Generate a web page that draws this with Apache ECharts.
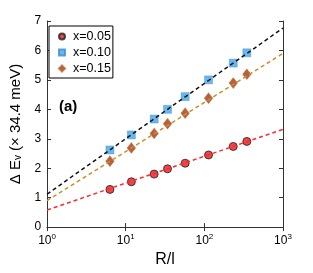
<!DOCTYPE html>
<html><head><meta charset="utf-8">
<script src="https://cdn.jsdelivr.net/npm/echarts@6/dist/echarts.min.js"></script>
<style>html,body{margin:0;padding:0;background:#fff}#c{width:313px;height:273px}</style>
</head><body><div id="c"></div>
<script>
var rl = [6.3, 11.8, 23, 34, 57, 113, 233, 347];
var x005 = [1.28, 1.54, 1.80, 1.98, 2.17, 2.45, 2.74, 2.91];
var x010 = [2.62, 3.13, 3.67, 4.00, 4.43, 5.00, 5.57, 5.92];
var x015 = [2.24, 2.69, 3.18, 3.51, 3.87, 4.38, 4.89, 5.19];
var fitX = [1, 1000];
var fit005 = [0.58, 3.32];
var fit010 = [1.12, 6.76];
var fit015 = [0.90, 5.90];
var seriesNames = ['x=0.05', 'x=0.10', 'x=0.15'];
var yTicks = [0, 1, 2, 3, 4, 5, 6, 7];

var FONT = 'Liberation Sans';
function pairs(xs, ys){ return xs.map(function(x,i){return [x, ys[i]];}); }

var chart = echarts.init(document.getElementById('c'));
var axisLine = {show: true, lineStyle: {color: '#333', width: 1}};
chart.setOption({
  animation: false,
  textStyle: {fontFamily: FONT},
  grid: {left: 42, top: 21, right: 30, bottom: 37, containLabel: false},
  legend: {
    data: [
      {name: seriesNames[0], icon: 'circle'},
      {name: seriesNames[1], icon: 'rect'},
      {name: seriesNames[2], icon: 'diamond'}
    ],
    orient: 'vertical', left: 49, top: 26,
    itemWidth: 6, itemHeight: 6, itemGap: 3,
    padding: [4, 2, 3, 9],
    backgroundColor: '#fff', borderColor: '#000', borderWidth: 1, borderRadius: 0,
    textStyle: {fontFamily: FONT, fontSize: 12.5, color: '#000', padding: [0,0,0,3]}
  },
  xAxis: [
    {type: 'log', logBase: 10, min: 1, max: 1000, position: 'bottom',
     name: 'R/l', nameLocation: 'middle', nameGap: 22,
     nameTextStyle: {fontFamily: FONT, fontSize: 16, color: '#000'},
     axisLine: axisLine, splitLine: {show: false},
     axisTick: {inside: true, length: 4, lineStyle: {color: '#333'}},
     axisLabel: {margin: 6, formatter: function(v){ return '{b|10}{s|' + Math.round(Math.log10(v)) + '}'; },
       rich: {b: {fontFamily: FONT, fontSize: 12, color: '#000'}, s: {fontFamily: FONT, fontSize: 8, color: '#000', verticalAlign: 'top', padding: [0,0,8,0]}}}},
    {type: 'log', logBase: 10, min: 1, max: 1000, position: 'top',
     axisLine: axisLine, splitLine: {show: false},
     axisTick: {inside: true, length: 4, lineStyle: {color: '#333'}}, axisLabel: {show: false}}
  ],
  yAxis: [
    {type: 'value', min: 0, max: 7, interval: 1, position: 'left',
     name: '{d|Δ E}{v|v}{d| (× 34.4 meV)}', nameLocation: 'middle', nameGap: 19, nameRotate: 90,
     nameTextStyle: {rich: {d: {fontFamily: FONT, fontSize: 15, color: '#000'}, v: {fontFamily: FONT, fontSize: 10, color: '#000', verticalAlign: 'bottom', padding: [6,0,0,0]}}},
     axisLine: axisLine, splitLine: {show: false},
     axisTick: {inside: true, length: 4, lineStyle: {color: '#333'}},
     axisLabel: {margin: 6, fontFamily: FONT, fontSize: 12, color: '#000',
       formatter: function(v){ return yTicks.indexOf(v) >= 0 ? String(v) : ''; }}},
    {type: 'value', min: 0, max: 7, interval: 1, position: 'right',
     axisLine: axisLine, splitLine: {show: false},
     axisTick: {inside: true, length: 4, lineStyle: {color: '#333'}}, axisLabel: {show: false}}
  ],
  series: [
    {name: seriesNames[0], type: 'scatter', data: pairs(rl, x005), symbol: 'circle', symbolSize: 8, z: 2,
     itemStyle: {color: '#e8161b', borderColor: '#222', borderWidth: 1}},
    {name: seriesNames[1], type: 'scatter', data: pairs(rl, x010), symbol: 'rect', symbolSize: 8, z: 2,
     itemStyle: {color: '#45a5e8', borderColor: '#3b8fd0', borderWidth: 0.5}},
    {name: seriesNames[2], type: 'scatter', data: pairs(rl, x015), symbol: 'diamond', symbolSize: [8, 10], z: 2,
     itemStyle: {color: '#a4361a', borderColor: '#b86a2a', borderWidth: 1}},
    {type: 'line', data: pairs(fitX, fit010), symbol: 'none', z: 3, silent: true,
     lineStyle: {color: '#111', width: 1.5, type: [4, 3]}},
    {type: 'line', data: pairs(fitX, fit015), symbol: 'none', z: 3, silent: true,
     lineStyle: {color: '#c98f2c', width: 1.5, type: [4, 3]}},
    {type: 'line', data: pairs(fitX, fit005), symbol: 'none', z: 3, silent: true,
     lineStyle: {color: '#ff2a2a', width: 1.5, type: [4, 3]}}
  ],
  graphic: [
    {type: 'text', left: 59, top: 99, style: {text: '(a)', font: 'bold 15px ' + FONT, fill: '#000'}}
  ]
});
</script></body></html>
